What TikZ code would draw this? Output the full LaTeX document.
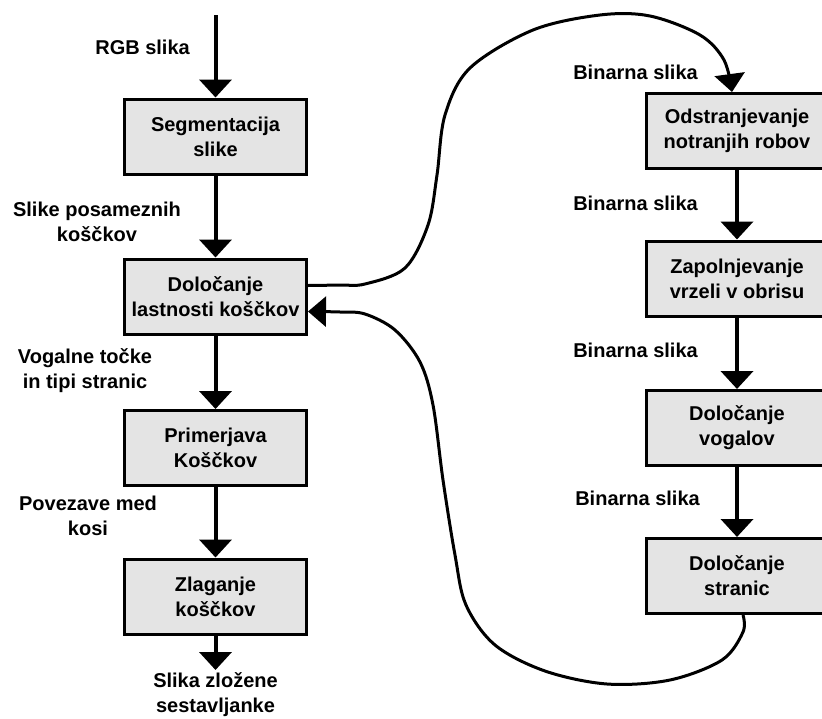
\documentclass[tikz,border=0pt]{standalone}
\usepackage{fontspec}
\setmainfont{Liberation Sans}
\usetikzlibrary{arrows.meta}
\definecolor{boxgray}{RGB}{228,228,228}
\begin{document}
\begin{tikzpicture}[x=1pt,y=-1pt,
  txt/.style={font=\bfseries\fontsize{20}{25}\selectfont},
  box/.style={txt, draw, line width=3pt, fill=boxgray, minimum width=182pt,
    minimum height=75pt, align=center, inner sep=0pt},
  lbl/.style={txt, align=center, inner sep=0pt},
  flow/.style={line width=4pt, -{Triangle[width=32pt,length=18pt]}},
  loopline/.style={line width=3pt, -{Triangle[width=30pt,length=18pt]}}]
\useasboundingbox (0,0) rectangle (822,718);
\clip (0,0) rectangle (822,718);
% left column
\node[box] (b1) at (215.5,136.5) {Segmentacija\\slike};
\node[box] (b2) at (215.5,296.5) {Določanje\\lastnosti koščkov};
\node[box] (b3) at (215.5,448) {Primerjava\\Koščkov};
\node[box] (b4) at (215.5,596.5) {Zlaganje\\koščkov};
\coordinate (in) at (215.5,15);
\coordinate (out) at (215.5,670);
% right column
\node[box] (r1) at (737,131) {Odstranjevanje\\notranjih robov};
\node[box] (r2) at (737,278.5) {Zapolnjevanje\\vrzeli v obrisu};
\node[box] (r3) at (737,428) {Določanje\\vogalov};
\node[box] (r4) at (737,576) {Določanje\\stranic};
% labels
\node[lbl, anchor=east] (l1) at (190,47) {RGB slika};
\node[lbl] (l2) at (97,222) {Slike posameznih\\koščkov};
\node[lbl] (l3) at (85,371) {Vogalne točke\\in tipi stranic};
\node[lbl] (l4) at (88,516) {Povezave med\\kosi};
\node[lbl] (l5) at (215.5,695) {Slika zložene\\sestavljanke};
\node[lbl, anchor=east] (l6) at (698,72) {Binarna slika};
\node[lbl, anchor=east] (l7) at (698,203) {Binarna slika};
\node[lbl, anchor=east] (l8) at (698,350) {Binarna slika};
\node[lbl, anchor=east] (l9) at (700,498) {Binarna slika};
% straight arrows
\draw[flow] (in) -- (b1.north);
\draw[flow] (b1) -- (b2);
\draw[flow] (b2) -- (b3);
\draw[flow] (b3) -- (b4);
\draw[flow] (b4) -- (out);
\draw[flow] (r1) -- (r2);
\draw[flow] (r2) -- (r3);
\draw[flow] (r3) -- (r4);
% loop out to right column
\draw[loopline] plot[smooth, tension=0.55] coordinates {
  ([yshift=11pt]b2.east) (340,285) (365,284) (405,268) (428,225) (437,175)
  (445,115) (470,68) (533,30) (600,15) (650,16) (700,35) (724,60)
  ([xshift=-5pt]r1.north)};
% loop back
\draw[loopline] plot[smooth, tension=0.55] coordinates {
  ([xshift=6pt]r4.south) (743,632) (722,660) (670,680) (607,684) (545,671)
  (495,645) (466,605) (455,555) (443,480) (433,405) (420,362) (395,330)
  (365,314) (340,312) ([yshift=-15pt]b2.east)};
\end{tikzpicture}
\end{document}
